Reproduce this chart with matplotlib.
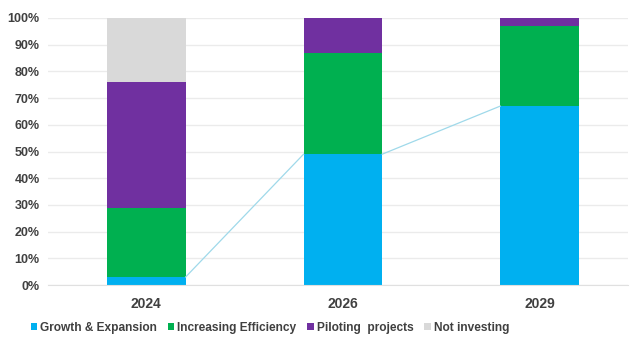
import matplotlib.pyplot as plt
from matplotlib.ticker import PercentFormatter

years = ['2024', '2026', '2029']
growth = [3, 49, 67]
efficiency = [26, 38, 30]
piloting = [47, 13, 3]
not_investing = [24, 0, 0]

series = [
    ('Growth & Expansion', growth, '#00b0f0'),
    ('Increasing Efficiency', efficiency, '#00b050'),
    ('Piloting  projects', piloting, '#7030a0'),
    ('Not investing', not_investing, '#d9d9d9'),
]

plt.rcParams['font.family'] = ['Liberation Sans', 'DejaVu Sans']
text_color = '#404040'

fig = plt.figure(figsize=(6.3, 3.38), dpi=100)
ax = fig.add_axes([48 / 630, 53 / 338, 580 / 630, 267 / 338])

x = list(range(len(years)))
width = 0.4
bottom = [0] * len(years)
for name, values, color in series:
    ax.bar(x, values, width, bottom=bottom, color=color, label=name, zorder=2)
    bottom = [b + v for b, v in zip(bottom, values)]

# series line joining the tops of the first segment
for i in range(len(years) - 1):
    ax.plot([x[i] + width / 2, x[i + 1] - width / 2], [growth[i], growth[i + 1]],
            color='#9fd9ea', lw=0.9, zorder=3)

ax.set_ylim(0, 100)
ax.set_xlim(-0.5, 2.45)
ax.set_yticks(range(0, 101, 10))
ax.yaxis.set_major_formatter(PercentFormatter(decimals=0))
ax.set_xticks(x)
ax.set_xticklabels(years)
ax.grid(axis='y', color='#ebebeb', lw=1, zorder=0)
ax.tick_params(length=0, colors=text_color)
ax.tick_params(axis='y', labelsize=9, pad=6)
ax.tick_params(axis='x', labelsize=10, pad=9)
for lbl in ax.get_xticklabels() + ax.get_yticklabels():
    lbl.set_fontweight('bold')
for side in ['top', 'right', 'left']:
    ax.spines[side].set_visible(False)
ax.spines['bottom'].set_color('#e0e0e0')

leg = fig.legend(loc='center', bbox_to_anchor=(270 / 630, 1 - 328 / 338), ncol=4,
                 frameon=False, handlelength=0.55, handleheight=0.55,
                 handletextpad=0.25, columnspacing=0.9, fontsize=8.6,
                 borderpad=0, borderaxespad=0)
for t in leg.get_texts():
    t.set_color(text_color)
    t.set_fontweight('bold')

fig.savefig('out.png', dpi=100)
